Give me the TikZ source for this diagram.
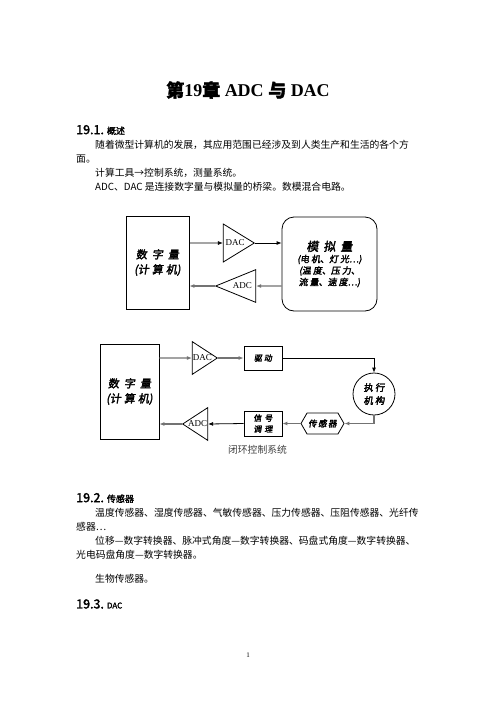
\documentclass[tikz,border=0pt]{standalone}
\usepackage{fontspec}
\setmainfont{Liberation Serif}
\newfontfamily\cjk{Noto Sans CJK SC}
\newfontfamily\cjkb{Noto Sans CJK SC}[FakeBold=2]
\newfontfamily\cjkd{Noto Sans CJK SC}[FakeBold=2.5,FakeSlant=0.15]
\usetikzlibrary{arrows.meta,calc,positioning,shapes.geometric,shapes.symbols}
\tikzstyle{block} = [rectangle, draw, thick, inner sep=0pt, align=center, font=\cjkd\fontsize{8}{11}\selectfont]
\tikzstyle{amp} = [isosceles triangle, isosceles triangle apex angle=70, isosceles triangle stretches, draw, thick, inner sep=0pt, font=\fontsize{9}{9}\selectfont]
\tikzstyle{feed} = [->, black!55, line width=1.4pt]
\tikzstyle{txt} = [anchor=west, inner sep=0pt, font=\cjk\fontsize{9.8}{12}\selectfont]
\tikzstyle{head} = [anchor=west, inner sep=0pt, font=\cjkb\fontsize{12.5}{14}\selectfont]
\tikzstyle{big} = [font=\cjkd\fontsize{11}{15}\selectfont]

\begin{document}
\begin{tikzpicture}[x=1pt,y=-1pt,>={Latex[length=5pt,width=4pt]}]
      \useasboundingbox[fill=white] (0,0) rectangle (496,702);
      \pgfmathsetmacro{\lsep}{14};
      % page text
      \node[font=\fontsize{18}{20}\selectfont\bfseries] (title) at (248,90) {{\cjkb 第}19{\cjkb 章} ADC {\cjkb 与} DAC};
      \node[head] (sec1) at (76,130) {19.1.\hspace{3pt}{\fontsize{9}{9}\selectfont 概述}};
      \node[txt] (intro1) at (95,145) {随着微型计算机的发展，其应用范围已经涉及到人类生产和生活的各个方};
      \node[txt] (intro2) at (76,145+\lsep) {面。};
      \node[txt] (intro3) at (95,145+2*\lsep) {计算工具→控制系统，测量系统。};
      \node[txt] (intro4) at (95,145+3*\lsep) {ADC、DAC 是连接数字量与模拟量的桥梁。数模混合电路。};
      %
      \node[head] (sec2) at (76,498) {19.2.\hspace{3pt}{\fontsize{9}{9}\selectfont 传感器}};
      \node[txt] (sens1) at (95,513) {温度传感器、湿度传感器、气敏传感器、压力传感器、压阻传感器、光纤传};
      \node[txt] (sens2) at (76,513+\lsep) {感器…};
      \node[txt] (sens3) at (95,513+2*\lsep) {位移—数字转换器、脉冲式角度—数字转换器、码盘式角度—数字转换器、};
      \node[txt] (sens4) at (76,513+3*\lsep) {光电码盘角度—数字转换器。};
      \node[txt] (sens5) at (95,579) {生物传感器。};
      \node[head] (sec3) at (76,604) {19.3.\hspace{3pt}{\fontsize{8}{8}\selectfont DAC}};
      \node[font=\fontsize{7}{7}\selectfont] (pagenum) at (248,655) {1};
      % open loop
      \node[block, big, minimum width=63pt, minimum height=93pt] (digital1) at (157.5,262.5) {数\hspace{5pt}字\hspace{5pt}量\\(计\hspace{3pt}算\hspace{3pt}机)};
      \node[amp, minimum width=38pt, minimum height=31pt, anchor=apex] (dac1) at (255,243) {DAC};
      \node[amp, shape border rotate=180, minimum width=32pt, minimum height=40pt, anchor=apex] (adc1) at (215,286) {ADC};
      \node[block, rounded corners=12pt, minimum width=95pt, minimum height=94pt, font=\cjkd\fontsize{9}{11.5}\selectfont] (analog1) at (329.5,264) {{\fontsize{12}{16}\selectfont 模\hspace{5pt}拟\hspace{5pt}量}\\(电\hspace{2pt}机、灯\hspace{2pt}光…)\\(温\hspace{2pt}度、压\hspace{2pt}力、\\流\hspace{2pt}量、速\hspace{2pt}度…)};
      %
      \draw[->, thick] (digital1.east |- dac1.apex) -- (dac1.west);
      \draw[->, thick] (dac1.apex) -- (dac1.apex -| analog1.west);
      \draw[feed] (analog1.west |- adc1.apex) -- (adc1.east);
      \draw[feed] (adc1.apex) -- (adc1.apex -| digital1.east);
      % closed loop
      \node[block, big, minimum width=59pt, minimum height=95pt] (digital2) at (129.5,391.5) {数\hspace{5pt}字\hspace{5pt}量\\(计\hspace{3pt}算\hspace{3pt}机)};
      \node[amp, minimum width=32pt, minimum height=25pt, anchor=apex] (dac2) at (218,358) {DAC};
      \node[block, minimum width=38pt, minimum height=24pt] (drive) at (263,358) {驱\hspace{2pt}动};
      \node[circle, draw, thick, minimum size=42pt, inner sep=0pt, align=center, font=\cjkd\fontsize{9.5}{13}\selectfont] (actuator) at (374,394) {执\hspace{2pt}行\\机\hspace{2pt}构};
      \node[signal, signal to=east and west, signal pointer angle=120, draw, thick, minimum width=43pt, minimum height=21pt, inner sep=0pt, font=\cjkd\fontsize{8.5}{9}\selectfont] (sensor) at (322.5,423.5) {传\,感\,器};
      \node[block, minimum width=38pt, minimum height=25pt] (cond) at (263,423.5) {信\hspace{3pt}号\\调\hspace{3pt}理};
      \node[amp, shape border rotate=180, minimum width=32pt, minimum height=25pt, anchor=apex] (adc2) at (182,424) {ADC};
      \node[font=\cjk\fontsize{9.8}{12}\selectfont, text=black!75] (caption) at (257.5,450) {闭环控制系统};
      %
      \draw[feed] (digital2.east |- dac2.apex) -- (dac2.west);
      \draw[feed] (dac2.apex) -- (drive.west);
      \draw[->, thick] (drive.east) -| (actuator.north);
      \draw[feed] (actuator.south) |- (sensor.east);
      \draw[feed] (sensor.west) -- (cond.east);
      \draw[->, thick] (cond.west) -- (adc2.east);
      \draw[feed] (adc2.apex) -- (adc2.apex -| digital2.east);
    \end{tikzpicture}
\end{document}
